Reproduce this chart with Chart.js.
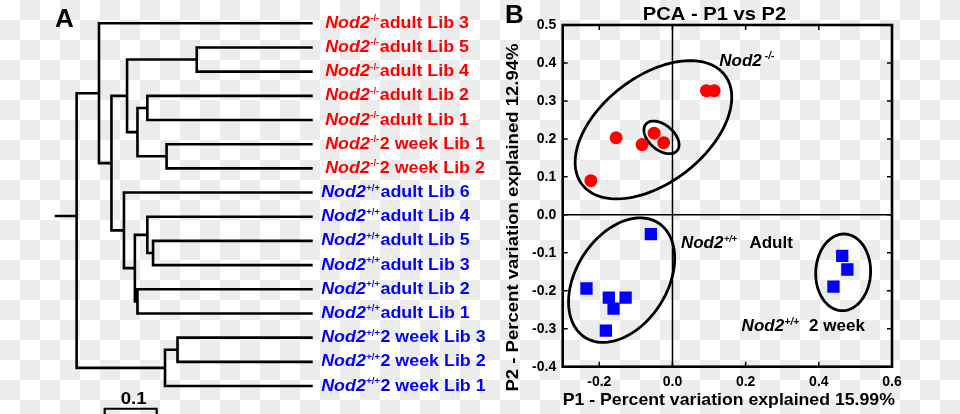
<!DOCTYPE html>
<html>
<head>
<meta charset="utf-8">
<script src="https://cdn.jsdelivr.net/npm/chart.js@4.4.1/dist/chart.umd.min.js"></script>
<style>
  html, body { margin: 0; padding: 0; }
  body {
    width: 960px; height: 414px; overflow: hidden; position: relative;
    background-color: #fff;
    background-image: conic-gradient(#ececec 25%, #fff 0 50%, #ececec 0 75%, #fff 0);
    background-size: 40px 40px;
  }
  canvas { position: absolute; top: 0; }
  #dendro { left: 0; }
  #pca { left: 480px; }
</style>
</head>
<body>
<canvas id="dendro" width="520" height="414"></canvas>
<canvas id="pca" width="480" height="414"></canvas>
<script>
const FONT = '"Liberation Sans", Arial, sans-serif';

// ---- panel A: leaves, top to bottom
const leafGenotype = ["-/-", "-/-", "-/-", "-/-", "-/-", "-/-", "-/-",
  "+/+", "+/+", "+/+", "+/+", "+/+", "+/+", "+/+", "+/+", "+/+"];
const leafNames = ["adult Lib 3", "adult Lib 5", "adult Lib 4", "adult Lib 2", "adult Lib 1",
  "2 week Lib 1", "2 week Lib 2", "adult Lib 6", "adult Lib 4", "adult Lib 5", "adult Lib 3",
  "adult Lib 2", "adult Lib 1", "2 week Lib 3", "2 week Lib 2", "2 week Lib 1"];

// merges: [child, child, height]; number = leaf row, "mN" = earlier merge
const merges = [
  [1, 2, 0.223],
  [3, 4, 0.318],
  [5, 6, 0.281],
  ["m1", "m2", 0.337],
  ["m0", "m3", 0.357],
  [9, 10, 0.307],
  [8, "m5", 0.318],
  [11, 12, 0.337],
  ["m6", "m7", 0.342],
  [7, "m8", 0.363],
  ["m4", "m9", 0.387],
  [0, "m10", 0.411],
  [13, 14, 0.260],
  ["m12", 15, 0.284],
  ["m11", "m13", 0.454]
];
const rootStub = { height: 0.496, row: 7.97 };
const scaleBar = { from: 0.4, to: 0.3, label: "0.1" };

// ---- panel B: PCA scores
const koP1 = [0.093, 0.114, -0.154, -0.083, -0.050, -0.024, -0.223];
const koP2 = [0.327, 0.327, 0.203, 0.185, 0.215, 0.190, 0.090];
const wtAdultP1 = [-0.059, -0.235, -0.174, -0.128, -0.161, -0.182];
const wtAdultP2 = [-0.051, -0.194, -0.218, -0.218, -0.247, -0.305];
const wt2wkP1 = [0.464, 0.478, 0.440];
const wt2wkP2 = [-0.108, -0.144, -0.189];
const p1Ticks = [-0.2, 0.0, 0.2, 0.4, 0.6];
const p2Ticks = [-0.4, -0.3, -0.2, -0.1, 0.0, 0.1, 0.2, 0.3, 0.4, 0.5];
// cluster ellipses in data units (centre, spread, correlation)
const clusterEllipses = [
  { cx: -0.052, cy: 0.224, sx: 0.214, sy: 0.182, rho: 0.47 },
  { cx: -0.030, cy: 0.204, sx: 0.048, sy: 0.043, rho: -0.45 },
  { cx: -0.139, cy: -0.172, sx: 0.145, sy: 0.164, rho: 0.35 },
  { cx: 0.4665, cy: -0.1515, sx: 0.075, sy: 0.101, rho: 0.03 }
];

function stretchText(ctx, text, x, y, sx) {
  ctx.save();
  ctx.translate(x, y);
  ctx.scale(sx, 1);
  ctx.fillText(text, 0, 0);
  ctx.restore();
  return ctx.measureText(text).width * sx;
}

// build dendrogram polylines
const nodes = [];
function place(ref) {
  if (typeof ref === "number") return { h: 0, y: ref };
  return nodes[+ref.slice(1)];
}
const treeData = [];
merges.forEach(([a, b, h]) => {
  const A = place(a), B = place(b);
  treeData.push({ x: A.h, y: A.y }, { x: h, y: A.y }, { x: h, y: B.y }, { x: B.h, y: B.y }, { x: NaN, y: NaN });
  nodes.push({ h, y: (A.y + B.y) / 2 });
});
const root = nodes[nodes.length - 1];
treeData.push({ x: rootStub.height, y: rootStub.row }, { x: root.h, y: rootStub.row });

const barRow = 15.94;
const barData = [
  { x: scaleBar.from, y: 16.3 }, { x: scaleBar.from, y: barRow },
  { x: scaleBar.to, y: barRow }, { x: scaleBar.to, y: 16.3 }
];

const dendroLabels = {
  id: "dendroLabels",
  afterDraw(chart) {
    const { ctx, chartArea: a, scales: { x, y } } = chart;
    ctx.save();
    ctx.textBaseline = "alphabetic";
    ctx.textAlign = "left";
    ctx.fillStyle = "#000";
    ctx.font = `bold 26px ${FONT}`;
    ctx.fillText("A", 55, 26.7);

    leafNames.forEach((name, i) => {
      const ko = leafGenotype[i] === "-/-";
      ctx.fillStyle = ko ? "#ff0000" : "#0000ff";
      const base = y.getPixelForValue(i) + 4.5;
      let px = a.right + (ko ? 12.5 : 8.5);
      ctx.font = `italic bold 17px ${FONT}`;
      px += stretchText(ctx, "Nod2", px, base, 1.05);
      ctx.font = `bold 9px ${FONT}`;
      px += stretchText(ctx, leafGenotype[i], px + 0.5, base - 6.5, 1.05) + 1;
      ctx.font = `bold 17px ${FONT}`;
      stretchText(ctx, name, px, base, 1.05);
    });

    ctx.fillStyle = "#000";
    ctx.textAlign = "center";
    ctx.font = `bold 17px ${FONT}`;
    const mid = (x.getPixelForValue(scaleBar.from) + x.getPixelForValue(scaleBar.to)) / 2;
    stretchText(ctx, scaleBar.label, mid + 3, 404, 1.1);
    ctx.restore();
  }
};

new Chart(document.getElementById("dendro"), {
  type: "scatter",
  data: {
    datasets: [
      { data: treeData, showLine: true, spanGaps: false, pointRadius: 0, borderColor: "#000",
        borderWidth: 2.6, borderJoinStyle: "miter", borderCapStyle: "butt", clip: false },
      { data: barData, showLine: true, pointRadius: 0, borderColor: "#000", borderWidth: 2.2, clip: false }
    ]
  },
  options: {
    responsive: false,
    animation: false,
    devicePixelRatio: 1,
    events: [],
    layout: { padding: { left: 52.7, right: 207.3, top: 11.2, bottom: 15.9 } },
    plugins: { legend: { display: false }, tooltip: { enabled: false } },
    scales: {
      x: { type: "linear", min: 0, max: 0.5, reverse: true, display: false },
      y: { type: "linear", min: -0.5, max: 15.5, reverse: true, display: false }
    }
  },
  plugins: [dendroLabels]
});

const pcaDecor = {
  id: "pcaDecor",
  beforeDatasetsDraw(chart) {
    const { ctx, chartArea: a, scales: { x, y } } = chart;
    ctx.save();
    ctx.strokeStyle = "#000";
    ctx.lineWidth = 1.5;
    const x0 = x.getPixelForValue(0), y0 = y.getPixelForValue(0);
    ctx.beginPath();
    ctx.moveTo(x0, a.top); ctx.lineTo(x0, a.bottom);
    ctx.moveTo(a.left, y0); ctx.lineTo(a.right, y0);
    ctx.stroke();

    ctx.lineWidth = 2.8;
    clusterEllipses.forEach(e => {
      const k = Math.sqrt(1 - e.rho * e.rho);
      ctx.beginPath();
      for (let i = 0; i <= 120; i++) {
        const t = i / 120 * 2 * Math.PI;
        const px = x.getPixelForValue(e.cx + e.sx * Math.cos(t));
        const py = y.getPixelForValue(e.cy + e.sy * (e.rho * Math.cos(t) + k * Math.sin(t)));
        if (i) ctx.lineTo(px, py); else ctx.moveTo(px, py);
      }
      ctx.closePath();
      ctx.stroke();
    });
    ctx.restore();
  },
  afterDraw(chart) {
    const { ctx, chartArea: a, scales: { x, y } } = chart;
    ctx.save();
    ctx.strokeStyle = "#000";
    ctx.fillStyle = "#000";

    // inner tick marks, all four sides
    ctx.lineWidth = 1.5;
    ctx.beginPath();
    p2Ticks.forEach(v => {
      const py = y.getPixelForValue(v);
      ctx.moveTo(a.left, py); ctx.lineTo(a.left + 5, py);
      ctx.moveTo(a.right - 5, py); ctx.lineTo(a.right, py);
    });
    p1Ticks.forEach(v => {
      const px = x.getPixelForValue(v);
      ctx.moveTo(px, a.top); ctx.lineTo(px, a.top + 5);
      ctx.moveTo(px, a.bottom - 5); ctx.lineTo(px, a.bottom);
    });
    ctx.stroke();

    ctx.lineWidth = 2.6;
    ctx.strokeRect(a.left, a.top, a.right - a.left, a.bottom - a.top);

    // titles
    ctx.textAlign = "center";
    ctx.textBaseline = "alphabetic";
    ctx.font = `bold 19px ${FONT}`;
    stretchText(ctx, "PCA - P1 vs P2", 234.5, 19.5, 1.06);

    ctx.textBaseline = "middle";
    ctx.font = `bold 17px ${FONT}`;
    stretchText(ctx, "P1 - Percent variation explained 15.99%", 248.8, 400.5, 1.04);
    ctx.save();
    ctx.translate(33, 217.5);
    ctx.rotate(-Math.PI / 2);
    stretchText(ctx, "P2 - Percent variation explained 12.94%", 0, 0, 1.09);
    ctx.restore();

    ctx.textAlign = "left";
    ctx.textBaseline = "alphabetic";
    ctx.font = `bold 26px ${FONT}`;
    ctx.fillText("B", 25, 23.3);

    // cluster annotations
    const note = (p1, p2, sup, rest, supGap, restGap, supSize) => {
      let px = x.getPixelForValue(p1);
      const base = y.getPixelForValue(p2);
      ctx.font = `italic bold 17px ${FONT}`;
      ctx.fillText("Nod2", px, base);
      px += ctx.measureText("Nod2").width + supGap;
      ctx.font = `italic bold ${supSize}px ${FONT}`;
      ctx.fillText(sup, px, base - 6.5);
      px += ctx.measureText(sup).width + restGap;
      if (rest) {
        ctx.font = `bold 17px ${FONT}`;
        ctx.fillText(rest, px, base);
      }
    };
    note(0.128, 0.393, "-/-", "", 3, 0, 10);
    note(0.023, -0.088, "+/+", "Adult", 0.5, 12.5, 9);
    note(0.189, -0.306, "+/+", "2 week", 0.5, 10, 10);
    ctx.restore();
  }
};

const tickFont = { family: FONT, size: 14, weight: "bold" };

new Chart(document.getElementById("pca"), {
  type: "scatter",
  data: {
    datasets: [
      { label: "Nod2-/-", data: koP1.map((v, i) => ({ x: v, y: koP2[i] })),
        pointStyle: "circle", pointRadius: 6.5, backgroundColor: "#ff0000", borderWidth: 0 },
      { label: "Nod2+/+ adult", data: wtAdultP1.map((v, i) => ({ x: v, y: wtAdultP2[i] })),
        pointStyle: "rect", pointRadius: 8.7, backgroundColor: "#0000ff", borderWidth: 0 },
      { label: "Nod2+/+ 2 week", data: wt2wkP1.map((v, i) => ({ x: v, y: wt2wkP2[i] })),
        pointStyle: "rect", pointRadius: 8.7, backgroundColor: "#0000ff", borderWidth: 0 }
    ]
  },
  options: {
    responsive: false,
    animation: false,
    devicePixelRatio: 1,
    events: [],
    layout: { padding: { left: 0, right: 68, top: 25, bottom: 0 } },
    plugins: { legend: { display: false }, tooltip: { enabled: false } },
    scales: {
      x: {
        type: "linear", min: -0.3, max: 0.6,
        grid: { display: false, drawTicks: false }, border: { display: false },
        afterBuildTicks: s => { s.ticks = p1Ticks.map(v => ({ value: v })); },
        afterFit: s => { s.height = 47.3; },
        ticks: { color: "#000", font: tickFont, padding: 7, autoSkip: false, maxRotation: 0,
          callback: v => v.toFixed(1) }
      },
      y: {
        type: "linear", min: -0.4, max: 0.5,
        grid: { display: false, drawTicks: false }, border: { display: false },
        afterBuildTicks: s => { s.ticks = p2Ticks.map(v => ({ value: v })); },
        afterFit: s => { s.width = 82.7; },
        ticks: { color: "#000", font: tickFont, padding: 6.5, autoSkip: false,
          callback: v => v.toFixed(1) }
      }
    }
  },
  plugins: [pcaDecor]
});
</script>
</body>
</html>
